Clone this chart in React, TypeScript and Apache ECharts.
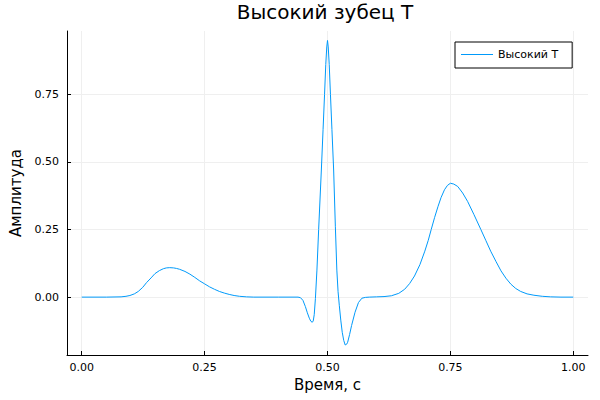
import React, { useEffect, useRef } from "react";
import * as echarts from "echarts";

const chartTitle = "Высокий зубец T";
const seriesName = "Высокий T";
const xAxisName = "Время, с";
const yAxisName = "Амплитуда";
const xTicks = [0, 0.25, 0.5, 0.75, 1.0];
const yTicks = [0, 0.25, 0.5, 0.75];

// Time (s) and amplitude
const timeS = [
  0, 0.05, 0.08, 0.09, 0.098, 0.107, 0.115, 0.124, 0.132, 0.141, 0.149, 0.158, 0.166, 0.172, 0.179,
  0.187, 0.193, 0.199, 0.21, 0.22, 0.23, 0.24, 0.25, 0.26, 0.27, 0.28, 0.29, 0.3, 0.31, 0.321, 0.335,
  0.35, 0.4, 0.44, 0.445, 0.45, 0.455, 0.459, 0.463, 0.466, 0.469, 0.471, 0.473, 0.4754, 0.4785,
  0.482, 0.4875, 0.491, 0.494, 0.4965, 0.4985, 0.5, 0.5015, 0.5035, 0.506, 0.509, 0.5125, 0.516,
  0.519, 0.5215, 0.524, 0.527, 0.530, 0.533, 0.536, 0.539, 0.541, 0.545, 0.549, 0.556, 0.563, 0.57,
  0.577, 0.585, 0.6, 0.615, 0.63, 0.645, 0.657, 0.667, 0.677, 0.688, 0.698, 0.705, 0.711, 0.718,
  0.725, 0.731, 0.738, 0.744, 0.75, 0.757, 0.765, 0.775, 0.785, 0.798, 0.812, 0.822, 0.832, 0.843,
  0.853, 0.863, 0.873, 0.883, 0.893, 0.906, 0.92, 0.937, 0.954, 0.975, 1.0,
];
const amplitude = [
  0, 0, 0.001, 0.003, 0.006, 0.012, 0.021, 0.036, 0.054, 0.071, 0.087, 0.098, 0.105, 0.108, 0.109,
  0.108, 0.106, 0.103, 0.095, 0.085, 0.073, 0.06, 0.049, 0.038, 0.029, 0.021, 0.015, 0.01, 0.006,
  0.003, 0.001, 0, 0, 0, -0.002, -0.012, -0.035, -0.058, -0.078, -0.089, -0.093, -0.088, -0.065,
  -0.005, 0.1, 0.25, 0.47, 0.62, 0.75, 0.86, 0.925, 0.949, 0.925, 0.86, 0.75, 0.62, 0.47, 0.26, 0.1,
  0.02, -0.03, -0.085, -0.13, -0.16, -0.177, -0.174, -0.167, -0.138, -0.105, -0.056, -0.02, -0.004,
  -0.001, 0, 0.001, 0.002, 0.005, 0.014, 0.029, 0.05, 0.078, 0.12, 0.17, 0.21, 0.25, 0.295, 0.336,
  0.368, 0.397, 0.413, 0.421, 0.418, 0.409, 0.385, 0.354, 0.305, 0.25, 0.21, 0.17, 0.131, 0.097,
  0.07, 0.048, 0.032, 0.021, 0.012, 0.007, 0.003, 0.001, 0, 0,
];

const FONT = "DejaVu Sans";

export default function App() {
  const ref = useRef<HTMLDivElement>(null);
  useEffect(() => {
    if (!ref.current) return;
    const chart = echarts.init(ref.current, undefined, { renderer: "svg" });
    const data = timeS.map((t, i) => [t, amplitude[i]]);
    chart.setOption({
      animation: false,
      backgroundColor: "#ffffff",
      textStyle: { fontFamily: FONT },
      title: {
        text: chartTitle,
        left: 325,
        textAlign: "center",
        top: 2,
        padding: 0,
        textStyle: { fontFamily: FONT, fontSize: 20, fontWeight: "normal", color: "#000" },
      },
      legend: {
        show: true,
        left: 455,
        top: 42,
        orient: "vertical",
        icon: "rect",
        itemWidth: 32,
        itemHeight: 1,
        padding: [7, 14, 8, 6],
        borderColor: "#000",
        borderWidth: 1,
        borderRadius: 0,
        backgroundColor: "#fff",
        textStyle: { fontFamily: FONT, fontSize: 11, color: "#000" },
        data: [seriesName],
      },
      grid: { left: 62, right: 12, top: 31, bottom: 45, containLabel: false },
      xAxis: {
        type: "value",
        min: -0.03,
        max: 1.03,
        name: xAxisName,
        nameLocation: "middle",
        nameGap: 22,
        nameTextStyle: { fontFamily: FONT, fontSize: 15, color: "#000" },
        axisLine: { show: true, onZero: false, lineStyle: { color: "#000", width: 1 } },
        axisTick: { show: true, inside: true, length: 4, customValues: xTicks, lineStyle: { color: "#000" } },
        axisLabel: {
          customValues: xTicks,
          formatter: (v: number) => v.toFixed(2),
          fontFamily: FONT,
          fontSize: 11,
          color: "#000",
          margin: 7,
        },
        splitLine: { show: true, lineStyle: { color: "#efefef", width: 1 } },
      },
      yAxis: {
        type: "value",
        min: -0.214,
        max: 0.984,
        name: yAxisName,
        nameLocation: "middle",
        nameGap: 44,
        nameRotate: 90,
        nameTextStyle: { fontFamily: FONT, fontSize: 15, color: "#000" },
        axisLine: { show: true, onZero: false, lineStyle: { color: "#000", width: 1 } },
        axisTick: { show: true, inside: true, length: 4, customValues: yTicks, lineStyle: { color: "#000" } },
        axisLabel: {
          customValues: yTicks,
          formatter: (v: number) => v.toFixed(2),
          fontFamily: FONT,
          fontSize: 11,
          color: "#000",
          margin: 8,
        },
        splitLine: { show: true, lineStyle: { color: "#efefef", width: 1 } },
      },
      series: [
        {
          name: seriesName,
          type: "line",
          data,
          showSymbol: false,
          symbol: "none",
          lineStyle: { color: "#009AFA", width: 1 },
          itemStyle: { color: "#009AFA" },
        },
      ],
    });
    return () => chart.dispose();
  }, []);
  return <div ref={ref} style={{ width: 600, height: 400, position: "absolute", left: 0, top: 0 }} />;
}
